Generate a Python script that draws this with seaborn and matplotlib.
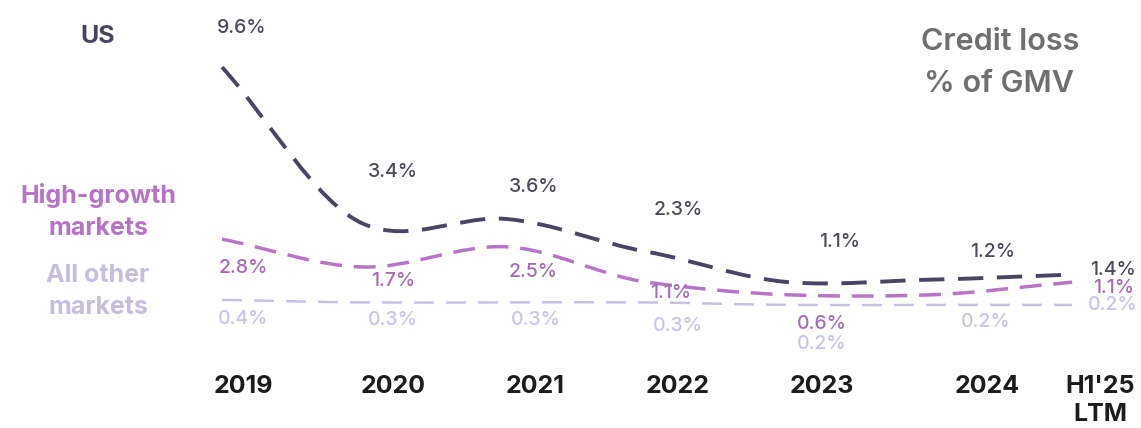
import numpy as np
import pandas as pd
import matplotlib
matplotlib.use("Agg")
import matplotlib.pyplot as plt
from matplotlib.path import Path
from matplotlib.patches import PathPatch
import seaborn as sns

# ---- data -------------------------------------------------------------
periods = ["2019", "2020", "2021", "2022", "2023", "2024", "H1'25"]
period_sub = ["", "", "", "", "", "", "LTM"]
us = [9.6, 3.4, 3.6, 2.3, 1.1, 1.2, 1.4]
high_growth = [2.8, 1.7, 2.5, 1.1, 0.6, 0.6, 1.1]
all_other = [0.4, 0.3, 0.3, 0.3, 0.2, 0.2, 0.2]
# which points carry a value label
high_growth_labelled = [True, True, True, True, True, False, True]

# ---- styling ----------------------------------------------------------
sns.set_theme(style="white")
plt.rcParams["font.family"] = ["Inter", "DejaVu Sans"]

W, H, DPI = 1141, 428, 100
fig = plt.figure(figsize=(W / DPI, H / DPI), dpi=DPI)
ax = fig.add_axes([0, 0, 1, 1])
ax.set_xlim(-1.567, 6.486)
ax.set_ylim(-4.664, 12.253)
ax.axis("off")

C_US, C_HG, C_AO = "#4b4561", "#b476c5", "#c9c1de"
T_US, T_HG, T_AO = "#4e4a58", "#a26db6", "#cbc4e3"


def smooth_path(xs, ys, tension=0.8):
    """Cardinal spline through the points, expressed as cubic Beziers."""
    xs = np.asarray(xs, float)
    ys = np.asarray(ys, float)
    n = len(xs)
    h = np.diff(xs)
    m = np.zeros(n)
    m[0] = (ys[1] - ys[0]) / h[0]
    m[-1] = (ys[-1] - ys[-2]) / h[-1]
    for i in range(1, n - 1):
        m[i] = tension * (ys[i + 1] - ys[i - 1]) / (xs[i + 1] - xs[i - 1])
    verts = [(xs[0], ys[0])]
    codes = [Path.MOVETO]
    for i in range(n - 1):
        verts += [(xs[i] + h[i] / 3, ys[i] + m[i] * h[i] / 3),
                  (xs[i + 1] - h[i] / 3, ys[i + 1] - m[i + 1] * h[i] / 3),
                  (xs[i + 1], ys[i + 1])]
        codes += [Path.CURVE4] * 3
    return Path(verts, codes)


df = pd.DataFrame({"x": np.arange(len(periods)), "US": us,
                   "High-growth": high_growth, "All other": all_other})

series = [
    ("All other", C_AO, 1.8, (0, (8.0, 4.8))),
    ("High-growth", C_HG, 2.5, (0, (6.3, 3.4))),
    ("US", C_US, 2.8, (0, (6.5, 3.5))),
]
for name, color, lw, ls in series:
    patch = PathPatch(smooth_path(df["x"], df[name]), fill=False,
                      edgecolor=color, lw=lw, linestyle=ls,
                      capstyle="butt", zorder=3)
    ax.add_patch(patch)

# value labels, offsets in pixels from each point
us_off = [(20, 39), (29, 52), (28, 32), (31, 42), (51, 40), (62, 28), (41, 5)]
hg_off = [(21, -29), (29, -14), (28, -25), (23, -11), (33, -29), (0, 0), (41, -6)]
ao_off = [(21, -19), (29, -18), (30, -18), (31, -24), (33, -39), (55, -17), (41, 0)]

lab_kw = dict(textcoords="offset pixels", ha="center", va="center",
              fontsize=14, fontweight="medium", zorder=5)
for i, x in enumerate(df["x"]):
    ax.annotate(f"{us[i]:.1f}%", (x, us[i]), xytext=us_off[i],
                color=T_US, **lab_kw)
    if high_growth_labelled[i]:
        ax.annotate(f"{high_growth[i]:.1f}%", (x, high_growth[i]),
                    xytext=hg_off[i], color=T_HG, **lab_kw)
    ax.annotate(f"{all_other[i]:.1f}%", (x, all_other[i]), xytext=ao_off[i],
                color=T_AO, **lab_kw)

# period labels along the bottom
period_off = [21, 29, 30, 31, 33, 57, 28]
per_kw = dict(xycoords=("data", "axes fraction"), textcoords="offset pixels",
              ha="center", va="baseline", fontsize=18, fontweight="bold",
              color="#1c1c1c")
for i, lab in enumerate(periods):
    ax.annotate(lab, (i, 1 - 393 / H), xytext=(period_off[i], 0), **per_kw)
    if period_sub[i]:
        ax.annotate(period_sub[i], (i, 1 - 421 / H),
                    xytext=(period_off[i], 0), **per_kw)


def ftext(px, py, s, **kw):
    fig.text(px / W, 1 - py / H, s, **kw)


side_kw = dict(ha="center", va="baseline", fontsize=18, fontweight="bold")
ftext(98, 43, "US", color=C_US, **side_kw)
ftext(98, 203, "High-growth", color="#b574c4", **side_kw)
ftext(98, 235, "markets", color="#b574c4", **side_kw)
ftext(98, 282, "All other", color="#c6bedc", **side_kw)
ftext(98, 314, "markets", color="#c6bedc", **side_kw)

title_kw = dict(ha="center", va="baseline", fontsize=22, fontweight="semibold",
                color="#6f6f6f")
ftext(1000, 50, "Credit loss", **title_kw)
ftext(999, 92, "% of GMV", **title_kw)

fig.savefig("out.png", dpi=DPI, facecolor="white")
